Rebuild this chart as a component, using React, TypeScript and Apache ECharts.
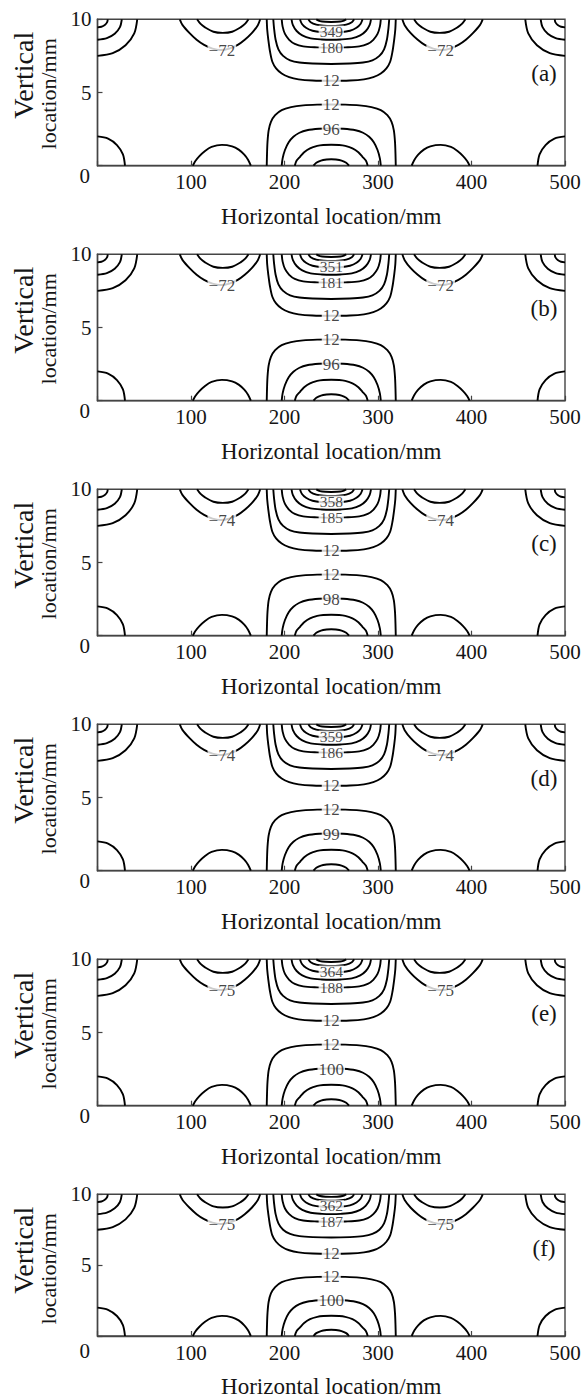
import React, { useEffect, useRef } from "react";
import * as echarts from "echarts";

// ---------- tick labels ----------
const X_MIN = 0;
const X_MAX = 500;
const X_INTERVAL = 100;
const Y_MIN = 0;
const Y_MAX = 10;
const Y_INTERVAL = 5;

// ---------- panel texts ----------
const PANEL_LETTERS = ["(a)", "(b)", "(c)", "(d)", "(e)", "(f)"];
const PEAK_LABELS = ["349", "351", "358", "359", "364", "362"];
const SECOND_LABELS = ["180", "181", "185", "186", "188", "187"];
const UPPER12_LABELS = ["12", "12", "12", "12", "12", "12"];
const LOWER12_LABELS = ["12", "12", "12", "12", "12", "12"];
const BOTTOM_LABELS = ["96", "96", "98", "99", "100", "100"];
const SIDE_LABELS = ["\u221272", "\u221272", "\u221274", "\u221274", "\u221275", "\u221275"];
const X_TITLE = "Horizontal location/mm";
const Y_TITLE_1 = "Vertical";
const Y_TITLE_2 = "location/mm";

// label anchor points [x, y] (data units)
const PEAK_POS = [250, 9.2];
const SECOND_POS = [250, 8.08];
const UPPER12_POS = [250, 5.8];
const LOWER12_POS = [250, 4.17];
const BOTTOM_POS = [250, 2.5];
const SIDE_LEFT_POS = [133, 7.88];
const SIDE_RIGHT_POS = [367, 7.88];

// ---------- contour lines (x mm, y mm) ----------
const topLeft1 = [[0, 9.45], [4.2, 9.49], [7.8, 9.61], [10.2, 9.79], [11, 10]];
const topLeft2 = [[0, 8.6], [10, 8.71], [18.4, 9.01], [24, 9.46], [26, 10]];
const topLeft3 = [[0, 7.5], [16.3, 7.69], [30, 8.23], [39.3, 9.04], [42.5, 10]];
const topRight1 = [[500, 9.45], [495.8, 9.49], [492.2, 9.61], [489.8, 9.79], [489, 10]];
const topRight2 = [[500, 8.6], [490, 8.71], [481.6, 9.01], [476, 9.46], [474, 10]];
const topRight3 = [[500, 7.5], [483.7, 7.69], [470, 8.23], [460.7, 9.04], [457.5, 10]];
const bottomLeftCorner = [[0, 2.0], [11.3, 1.85], [20.8, 1.41], [27.2, 0.77], [29.4, 0]];
const bottomRightCorner = [[500, 2.0], [488.7, 1.85], [479.2, 1.41], [472.8, 0.77], [470.6, 0]];

const sideLeftOuter = [[88, 10], [91, 9.6], [98.5, 9.05], [106, 8.6], [114, 8.25], [123, 8.0], [132, 7.9], [141, 8.0], [150, 8.25], [157.5, 8.6], [165, 9.05], [171.5, 9.6], [174, 10]];
const sideLeftInner = [[106.5, 10], [110, 9.7], [115, 9.45], [124, 9.15], [134, 9.07], [144, 9.15], [153, 9.45], [158, 9.7], [161.5, 10]];
const sideRightOuter = [[326, 10], [328.5, 9.6], [335, 9.05], [342.5, 8.6], [350, 8.25], [359, 8.0], [368, 7.9], [377, 8.0], [386, 8.25], [394, 8.6], [401.5, 9.05], [409, 9.6], [412, 10]];
const sideRightInner = [[338.5, 10], [342, 9.7], [347, 9.45], [356, 9.15], [366, 9.07], [376, 9.15], [385, 9.45], [390, 9.7], [393.5, 10]];

const bottomArchLeft = [[102, 0], [104.5, 0.3], [109, 0.65], [115, 1.0], [122, 1.28], [133, 1.42], [144, 1.32], [151, 1.1], [157, 0.75], [161, 0.4], [164, 0]];
const bottomArchRight = [[336, 0], [339, 0.4], [343, 0.75], [349, 1.1], [356, 1.32], [367, 1.42], [378, 1.28], [385, 1.0], [391, 0.65], [395.5, 0.3], [398, 0]];

const centerTop1 = [[181, 10], [181.5, 9.3], [182.7, 8.6], [184.5, 7.8], [187, 7.1], [191, 6.65], [197, 6.3], [205, 6.05], [215, 5.9], [230, 5.82], [250, 5.8], [270, 5.82], [285, 5.9], [295, 6.05], [303, 6.3], [309, 6.65], [313, 7.1], [315.5, 7.8], [317.3, 8.6], [318.5, 9.3], [319, 10]];
const centerTop2 = [[188, 10], [188.8, 9.4], [190.5, 8.6], [193.5, 7.95], [198.5, 7.5], [206, 7.2], [216, 7.05], [230, 6.98], [250, 6.95], [270, 6.98], [284, 7.05], [294, 7.2], [301.5, 7.5], [306.5, 7.95], [309.5, 8.6], [311.2, 9.4], [312, 10]];
const centerTop3 = [[197, 10], [198, 9.5], [200.5, 9.0], [205, 8.6], [211, 8.32], [220, 8.15], [235, 8.08], [250, 8.05], [265, 8.08], [280, 8.15], [289, 8.32], [295, 8.6], [299.5, 9.0], [302, 9.5], [303, 10]];
const centerTop4 = [[207.5, 10], [209, 9.6], [213, 9.2], [219, 8.9], [228, 8.7], [240, 8.62], [250, 8.6], [260, 8.62], [272, 8.7], [281, 8.9], [287, 9.2], [291, 9.6], [292.5, 10]];
const centerTop5 = [[216.5, 10], [218.5, 9.7], [223, 9.42], [230, 9.22], [240, 9.12], [250, 9.1], [260, 9.12], [270, 9.22], [277, 9.42], [281.5, 9.7], [283.5, 10]];
const centerTop6 = [[225.5, 10], [228, 9.8], [234, 9.64], [242, 9.57], [250, 9.55], [258, 9.57], [266, 9.64], [272, 9.8], [274.5, 10]];
const centerTop7 = [[234, 10], [238, 9.88], [244, 9.83], [250, 9.82], [256, 9.83], [262, 9.88], [266, 10]];

const centerBottom1 = [[181, 0], [181.3, 0.8], [181.8, 1.6], [183, 2.4], [185.5, 3.0], [190, 3.45], [197, 3.8], [207, 4.0], [220, 4.12], [235, 4.17], [250, 4.18], [265, 4.17], [280, 4.12], [293, 4.0], [303, 3.8], [310, 3.45], [314.5, 3.0], [317, 2.4], [318.2, 1.6], [318.7, 0.8], [319, 0]];
const centerBottom2 = [[197, 0], [198, 0.5], [200.5, 1.07], [204.5, 1.6], [209.5, 1.98], [216, 2.25], [224, 2.42], [237, 2.52], [250, 2.55], [263, 2.52], [276, 2.42], [284, 2.25], [290.5, 1.98], [295.5, 1.6], [299.5, 1.07], [302, 0.5], [303, 0]];
const centerBottom3 = [[211, 0], [213, 0.35], [216.6, 0.61], [221, 0.92], [227.3, 1.19], [235, 1.35], [241.5, 1.41], [250, 1.43], [258.5, 1.41], [265, 1.35], [272.7, 1.19], [279, 0.92], [283.4, 0.61], [287, 0.35], [289, 0]];
const centerBottom4 = [[231, 0], [234, 0.2], [239, 0.35], [245, 0.42], [250, 0.44], [255, 0.42], [261, 0.35], [266, 0.2], [269, 0]];

const CONTOURS = [
  topLeft1, topLeft2, topLeft3, topRight1, topRight2, topRight3,
  bottomLeftCorner, bottomRightCorner,
  sideLeftOuter, sideLeftInner, sideRightOuter, sideRightInner,
  bottomArchLeft, bottomArchRight,
  centerTop1, centerTop2, centerTop3, centerTop4, centerTop5, centerTop6, centerTop7,
  centerBottom1, centerBottom2, centerBottom3, centerBottom4,
];

// ---------- layout ----------
const FONT = "Liberation Serif";
const TEXT_COLOR = "#151515";
const AXIS_COLOR = "#444";
const GRID_LEFT = 97.5;
const GRID_WIDTH = 467.5;
const GRID_HEIGHT = 146.4;
const GRID_TOP0 = 19.3;
const GRID_STEP = 235;

function buildOption() {
  const grids: any[] = [];
  const xAxes: any[] = [];
  const yAxes: any[] = [];
  const series: any[] = [];
  const graphics: any[] = [];

  PANEL_LETTERS.forEach((letter, i) => {
    const top = GRID_TOP0 + i * GRID_STEP;
    grids.push({
      left: GRID_LEFT,
      top,
      width: GRID_WIDTH,
      height: GRID_HEIGHT,
      show: true,
      borderColor: AXIS_COLOR,
      borderWidth: 1.4,
      backgroundColor: "transparent",
    });
    xAxes.push({
      type: "value",
      gridIndex: i,
      min: X_MIN,
      max: X_MAX,
      interval: X_INTERVAL,
      axisLine: { show: true, lineStyle: { color: AXIS_COLOR, width: 1.4 } },
      axisTick: { show: true, inside: true, length: 5, lineStyle: { color: AXIS_COLOR, width: 1.2 } },
      splitLine: { show: false },
      axisLabel: {
        formatter: (v: number) => (v === 0 ? "" : String(v)),
        fontSize: 21,
        fontFamily: FONT,
        color: TEXT_COLOR,
        margin: 6,
        showMaxLabel: true,
        showMinLabel: true,
      },
      name: X_TITLE,
      nameLocation: "middle",
      nameGap: 39,
      nameTextStyle: { fontSize: 23, fontFamily: FONT, color: TEXT_COLOR },
    });
    yAxes.push({
      type: "value",
      gridIndex: i,
      min: Y_MIN,
      max: Y_MAX,
      interval: Y_INTERVAL,
      axisLine: { show: true, lineStyle: { color: AXIS_COLOR, width: 1.4 } },
      axisTick: { show: true, inside: true, length: 5, lineStyle: { color: AXIS_COLOR, width: 1.2 } },
      splitLine: { show: false },
      axisLabel: {
        formatter: (v: number) => (v === 0 ? "" : String(v)),
        fontSize: 21,
        fontFamily: FONT,
        color: TEXT_COLOR,
        margin: 6,
      },
    });

    CONTOURS.forEach((c) => {
      series.push({
        type: "line",
        xAxisIndex: i,
        yAxisIndex: i,
        data: c,
        symbol: "none",
        showSymbol: false,
        smooth: 0.3,
        silent: true,
        lineStyle: { color: "#000", width: 1.9 },
        z: 2,
      });
    });

    const labelStyle = {
      fontSize: 17,
      lineHeight: 12,
      fontFamily: FONT,
      color: TEXT_COLOR,
      backgroundColor: "#fff",
      padding: [0, 1],
    };
    const squeezed = { label: { fontSize: 15.5, lineHeight: 11 } };
    const labels = [
      { name: PEAK_LABELS[i], value: PEAK_POS, ...squeezed },
      { name: SECOND_LABELS[i], value: SECOND_POS, ...squeezed },
      { name: UPPER12_LABELS[i], value: UPPER12_POS },
      { name: LOWER12_LABELS[i], value: LOWER12_POS },
      { name: BOTTOM_LABELS[i], value: BOTTOM_POS },
      { name: SIDE_LABELS[i], value: SIDE_LEFT_POS },
      { name: SIDE_LABELS[i], value: SIDE_RIGHT_POS },
    ];
    series.push({
      type: "scatter",
      xAxisIndex: i,
      yAxisIndex: i,
      symbolSize: 1,
      silent: true,
      itemStyle: { color: "transparent" },
      z: 5,
      label: {
        show: true,
        position: "inside",
        formatter: (p: any) => p.name,
        ...labelStyle,
      },
      data: labels,
    });

    graphics.push({
      type: "text",
      x: 90,
      y: top + GRID_HEIGHT + 10,
      style: { text: "0", font: `21px "${FONT}"`, fill: TEXT_COLOR, align: "right", verticalAlign: "middle", textAlign: "right", textVerticalAlign: "middle" },
    });
    graphics.push({
      type: "text",
      x: 544,
      y: top + 54,
      style: { text: letter, font: `23px "${FONT}"`, fill: TEXT_COLOR, align: "center", verticalAlign: "middle", textAlign: "center", textVerticalAlign: "middle" },
    });
    graphics.push({
      type: "text",
      x: 23,
      y: top + 56,
      rotation: Math.PI / 2,
      style: { text: Y_TITLE_1, font: `28px "${FONT}"`, fill: TEXT_COLOR, align: "center", verticalAlign: "middle", textAlign: "center", textVerticalAlign: "middle" },
    });
    graphics.push({
      type: "text",
      x: 48,
      y: top + 74.5,
      rotation: Math.PI / 2,
      style: { text: Y_TITLE_2, font: `22px "${FONT}"`, fill: TEXT_COLOR, align: "center", verticalAlign: "middle", textAlign: "center", textVerticalAlign: "middle" },
    });
  });

  return {
    animation: false,
    backgroundColor: "#fff",
    grid: grids,
    xAxis: xAxes,
    yAxis: yAxes,
    series,
    graphic: graphics,
  };
}

export default function App() {
  const ref = useRef<HTMLDivElement>(null);
  useEffect(() => {
    if (!ref.current) return;
    const chart = echarts.init(ref.current, null, { renderer: "svg" });
    chart.setOption(buildOption() as any);
    return () => chart.dispose();
  }, []);
  return (
    <div
      ref={ref}
      style={{ position: "absolute", left: 0, top: 0, width: 586, height: 1399, background: "#fff" }}
    />
  );
}
